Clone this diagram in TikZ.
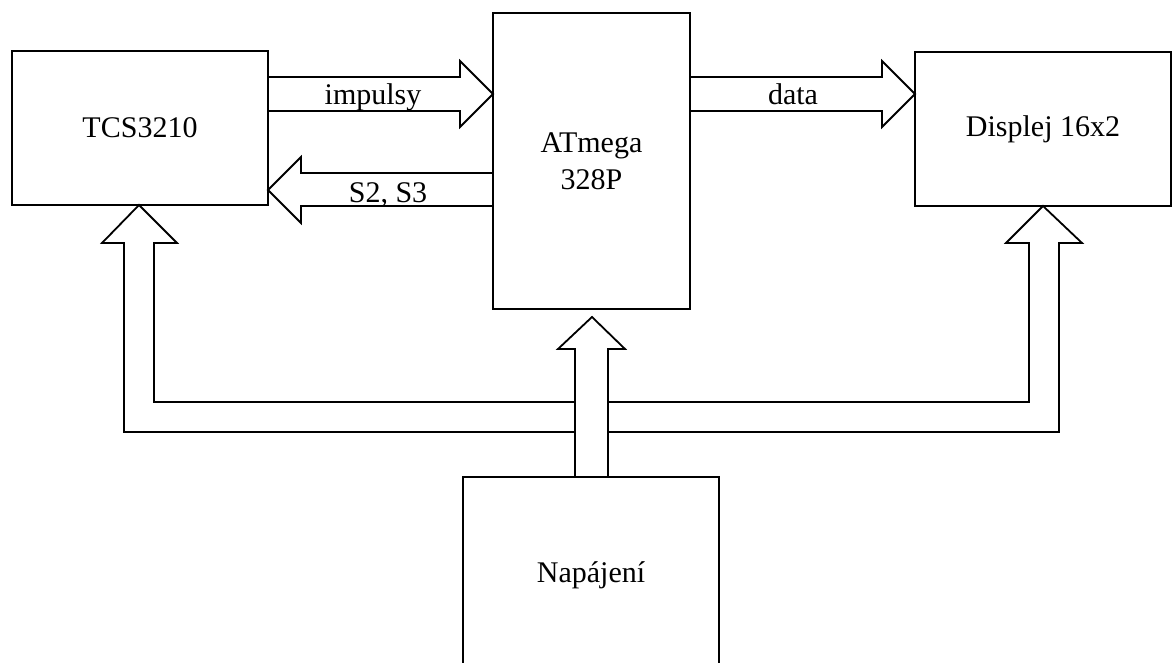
\documentclass[tikz,border=0pt]{standalone}
\usepackage{fontspec}
\setmainfont{Liberation Serif}
\begin{document}
\begin{tikzpicture}[x=1pt,y=-1pt,
  box/.style={draw,line width=1.8pt,inner sep=0pt,align=center,font=\fontsize{30}{37}\selectfont},
  blockarrow/.style={draw,line width=1.8pt,line join=miter},
  lbl/.style={anchor=base,inner sep=0pt,font=\fontsize{30}{37}\selectfont}]
\useasboundingbox (0,0) rectangle (1174,663);
\clip (0,0) rectangle (1174,663);
\fill[white] (0,0) rectangle (1174,663);
% blocks
\node[box,minimum width=256pt,minimum height=154pt] (tcs) at (140,128) {TCS3210};
\node[box,minimum width=197pt,minimum height=296pt] (atm) at (591.5,161) {ATmega\\328P};
\node[box,minimum width=256pt,minimum height=154pt] (disp) at (1043,129) {Displej 16x2};
\node[box,minimum width=256pt,minimum height=196pt] (nap) at (591,575) {Napájení};
% impulsy
\draw[blockarrow] (268,77) -- (460,77) -- (460,61) -- (493,94) -- (460,127) -- (460,111) -- (268,111);
\node[lbl] (limp) at (373,105) {impulsy};
% S2, S3
\draw[blockarrow] (493,173) -- (301,173) -- (301,157) -- (268,190) -- (301,223) -- (301,206) -- (493,206);
\node[lbl] (ls) at (388,202) {S2, S3};
% data
\draw[blockarrow] (690,77) -- (882,77) -- (882,61) -- (915,94) -- (882,127) -- (882,111) -- (690,111);
\node[lbl] (ldata) at (793,105) {data};
% power distribution
\draw[blockarrow] (575,402) -- (154,402) -- (154,243) -- (177,243) -- (139,205) -- (102,243) -- (124,243) -- (124,432) -- (575,432);
\draw[blockarrow] (608,402) -- (1029,402) -- (1029,243) -- (1006,243) -- (1043,206) -- (1082,243) -- (1059,243) -- (1059,432) -- (608,432);
\draw[blockarrow] (575,477) -- (575,349) -- (558,349) -- (592,317) -- (625,349) -- (608,349) -- (608,477);
\end{tikzpicture}
\end{document}
